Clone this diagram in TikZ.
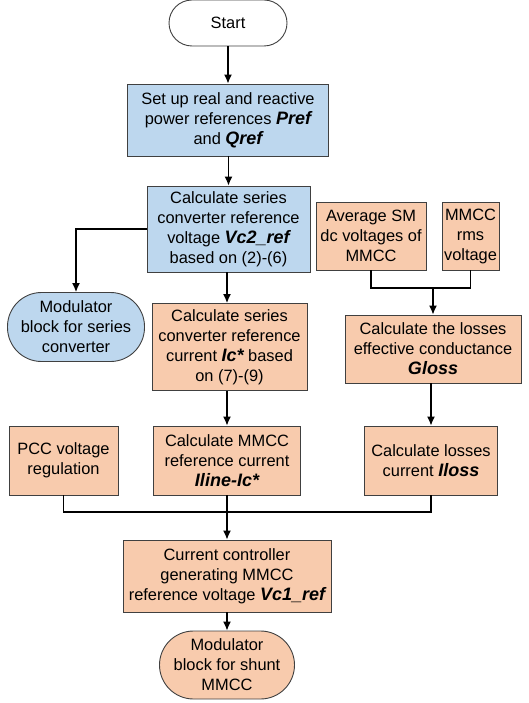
\documentclass[tikz,border=0pt]{standalone}
\usepackage{fontspec}
\setmainfont{Liberation Sans}
\usetikzlibrary{arrows.meta}
\definecolor{stepblue}{RGB}{189,215,238}
\definecolor{steporange}{RGB}{248,203,173}
\definecolor{edgegray}{RGB}{64,64,64}
\newcommand{\bi}[1]{{\fontsize{18}{20}\selectfont\bfseries\itshape #1}}
\begin{document}
\begin{tikzpicture}[x=1pt,y=-1pt,line width=1.3pt,>={Latex[length=9pt,width=8pt]},
  font=\fontsize{16.4}{20}\selectfont,
  box/.style = {draw=edgegray, line width=0.9pt, align=center, inner sep=1pt},
  blue/.style = {box, fill=stepblue},
  orange/.style = {box, fill=steporange},
  term/.style = {box, rounded corners=#1}]
\useasboundingbox (0,0) rectangle (528,703);
\node[term=23pt, fill=white, minimum width=118pt, minimum height=46pt] (1) at (228,23) {Start};
\node[blue, minimum width=201pt, minimum height=72pt] (2) at (228,120) {Set up real and reactive\\power references \bi{Pref}\\and \bi{Qref}};
\node[blue, minimum width=163pt, minimum height=86pt] (3) at (228.5,229) {Calculate series\\converter reference\\voltage \bi{Vc2\_ref}\\based on (2)-(6)};
\node[term=34pt, fill=stepblue, minimum width=137pt, minimum height=69pt] (4) at (76,327) {Modulator\\block for series\\converter};
\node[orange, minimum width=155pt, minimum height=87pt] (5) at (229.5,347) {Calculate series\\converter reference\\current \bi{Ic*} based\\on (7)-(9)};
\node[orange, minimum width=110pt, minimum height=68pt] (6) at (371,236) {Average SM\\dc voltages of\\MMCC};
\node[orange, minimum width=57pt, minimum height=68pt] (7) at (470.5,236) {MMCC\\rms\\voltage};
\node[orange, minimum width=176pt, minimum height=68pt] (8) at (433,349) {Calculate the losses\\effective conductance\\\bi{Gloss}};
\node[orange, minimum width=109pt, minimum height=69pt] (9) at (63.5,460.5) {PCC voltage\\regulation};
\node[orange, minimum width=147pt, minimum height=69pt] (10) at (227,460.5) {Calculate MMCC\\reference current\\\bi{Iline-Ic*}};
\node[orange, minimum width=133pt, minimum height=69pt] (11) at (431,460.5) {Calculate losses\\current \bi{Iloss}};
\node[orange, minimum width=208pt, minimum height=72pt] (12) at (227,576) {Current controller\\generating MMCC\\reference voltage \bi{Vc1\_ref}};
\node[term=34pt, fill=steporange, minimum width=135pt, minimum height=68pt] (13) at (227,665) {Modulator\\block for shunt\\MMCC};
\coordinate (j1) at (433,288);
\coordinate (j2) at (227,512);
\draw[->] (1) to (2);
\draw[->] (2.south -| 3.north) to (3.north);
\draw[->] (3.west) -| (4.north);
\draw[->] (3.south -| 10.north) to (10.north |- 5.north);
\draw (6.south) |- (j1) -| (7.south);
\draw[->] (j1) to (8.north);
\draw[->] (5.south -| 10.north) to (10.north);
\draw[->] (8.south -| 11.north) to (11.north);
\draw (9.south) |- (j2) -| (11.south);
\draw (10.south) to (j2);
\draw[->] (j2) to (12.north);
\draw[->] (12) to (13);
\end{tikzpicture}
\end{document}
